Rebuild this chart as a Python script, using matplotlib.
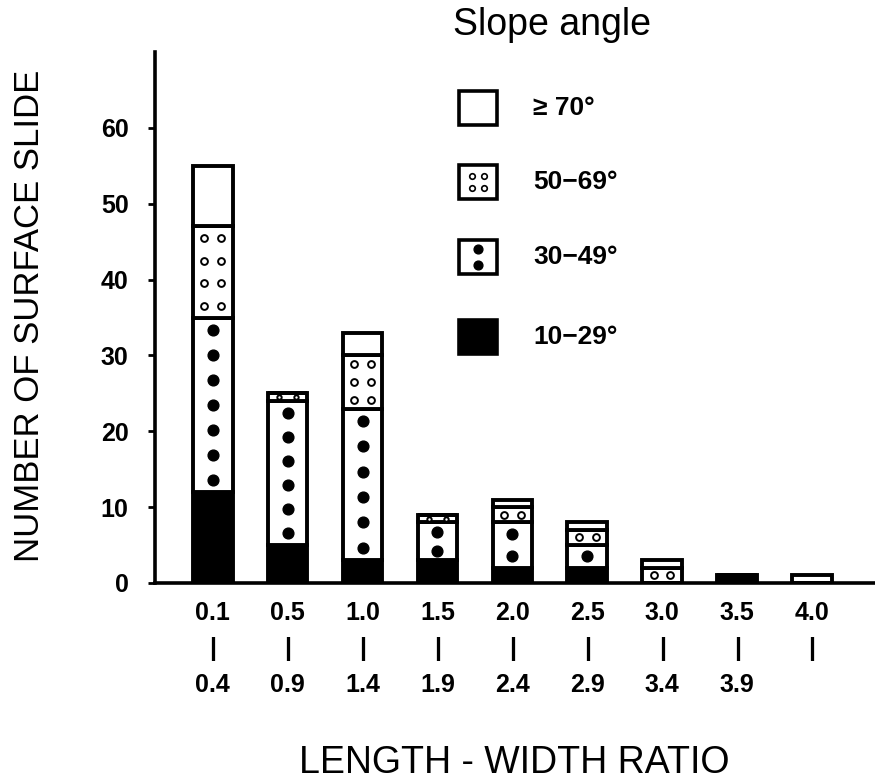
import numpy as np
import matplotlib
matplotlib.use("Agg")
import matplotlib.pyplot as plt
from matplotlib.patches import Rectangle

plt.rcParams['font.family'] = ['Liberation Sans', 'DejaVu Sans']

# length-width ratio classes
cats = ["0.1\n|\n0.4", "0.5\n|\n0.9", "1.0\n|\n1.4", "1.5\n|\n1.9", "2.0\n|\n2.4",
        "2.5\n|\n2.9", "3.0\n|\n3.4", "3.5\n|\n3.9", "4.0\n|\n "]

# number of surface slides per slope angle class
s10_29 = [12, 5, 3, 3, 2, 2, 0, 1, 0]
s30_49 = [23, 19, 20, 5, 6, 3, 0, 0, 0]
s50_69 = [12, 1, 7, 1, 2, 2, 2, 0, 0]
s70 = [8, 0, 3, 0, 1, 1, 1, 0, 1]

legend_labels = ["\u2265 70\u00b0", "50\u221269\u00b0", "30\u221249\u00b0", "10\u221229\u00b0"]

W = 0.53
LW = 2.8

fig = plt.figure(figsize=(8.75, 7.84), dpi=100)
ax = fig.add_axes([155/875, 1-583/784, 720/875, 531/784])

x = np.arange(len(cats))
b0 = np.zeros(len(cats))
b1 = b0 + np.array(s10_29)
b2 = b1 + np.array(s30_49)
b3 = b2 + np.array(s50_69)

ax.bar(x, s10_29, W, bottom=b0, color='black', edgecolor='black', lw=LW, zorder=2)
ax.bar(x, s30_49, W, bottom=b1, color='white', edgecolor='black', lw=LW, zorder=2)
ax.bar(x, s50_69, W, bottom=b2, color='white', edgecolor='black', lw=LW, zorder=2)
ax.bar(x, s70, W, bottom=b3, color='white', edgecolor='black', lw=LW, zorder=2)

# pattern: filled dots for 30-49, open circles for 50-69
for i in range(len(cats)):
    h = s30_49[i]
    if h > 0:
        n = max(1, int(round(h / 3.2)))
        ys = b1[i] + h * (np.arange(n) + 0.5) / n
        ax.scatter(np.full(n, x[i]), ys, s=60, color='black', zorder=3)
    h = s50_69[i]
    if h > 0:
        n = max(1, int(np.ceil(h / 3.0 - 0.1)))
        ys = b2[i] + h * (np.arange(n) + 0.5) / n
        ms = 24 if h >= 2 else 10
        for dx in (-0.11, 0.11):
            ax.scatter(np.full(n, x[i] + dx), ys, s=ms, facecolor='white',
                       edgecolor='black', lw=1.4, zorder=3)

ax.set_xlim(-0.77, 8.84)
ax.set_ylim(0, 70)
ax.set_yticks(np.arange(0, 61, 10))
ax.set_xticks(x)
ax.set_xticklabels(cats, fontsize=18, fontweight='bold', linespacing=1.62)
for t in ax.get_yticklabels():
    t.set_fontsize(18)
    t.set_fontweight('bold')
ax.tick_params(axis='x', length=0, pad=13)
ax.tick_params(axis='y', direction='out', length=5, width=2, pad=14)
ax.spines['top'].set_visible(False)
ax.spines['right'].set_visible(False)
ax.spines['left'].set_linewidth(2.6)
ax.spines['bottom'].set_linewidth(2.6)

# legend drawn by hand in axes coordinates
ys_leg = [(583-108)/531, (583-182)/531, (583-257)/531, (583-337)/531]
bx, bw, bh = 304/720, 38/720, 34/531
for k, yc in enumerate(ys_leg):
    fc = 'black' if k == 3 else 'white'
    ax.add_patch(Rectangle((bx, yc - bh/2), bw, bh, transform=ax.transAxes,
                           facecolor=fc, edgecolor='black', lw=2.6, clip_on=False, zorder=4))
    cx = bx + bw/2
    if k == 1:
        for dx in (-0.009, 0.009):
            for dy in (-0.012, 0.012):
                ax.scatter(cx + dx, yc + dy, s=16, facecolor='white', edgecolor='black',
                           lw=1.2, transform=ax.transAxes, clip_on=False, zorder=5)
    if k == 2:
        for dy in (-0.016, 0.016):
            ax.scatter(cx, yc + dy, s=40, color='black', transform=ax.transAxes,
                       clip_on=False, zorder=5)
    ax.text(bx + bw + 36/720, yc, legend_labels[k], transform=ax.transAxes,
            fontsize=19, fontweight='bold', va='center', ha='left')

fig.text(552/875, 1-25/784, "Slope angle", fontsize=27, ha='center', va='center')
fig.text(30/875, 1-316/784, "NUMBER OF SURFACE SLIDE", fontsize=25, rotation=90,
         ha='center', va='center')
fig.text(514/875, 1-763/784, "LENGTH - WIDTH RATIO", fontsize=27, ha='center', va='center')

fig.savefig("out.png", dpi=100)
